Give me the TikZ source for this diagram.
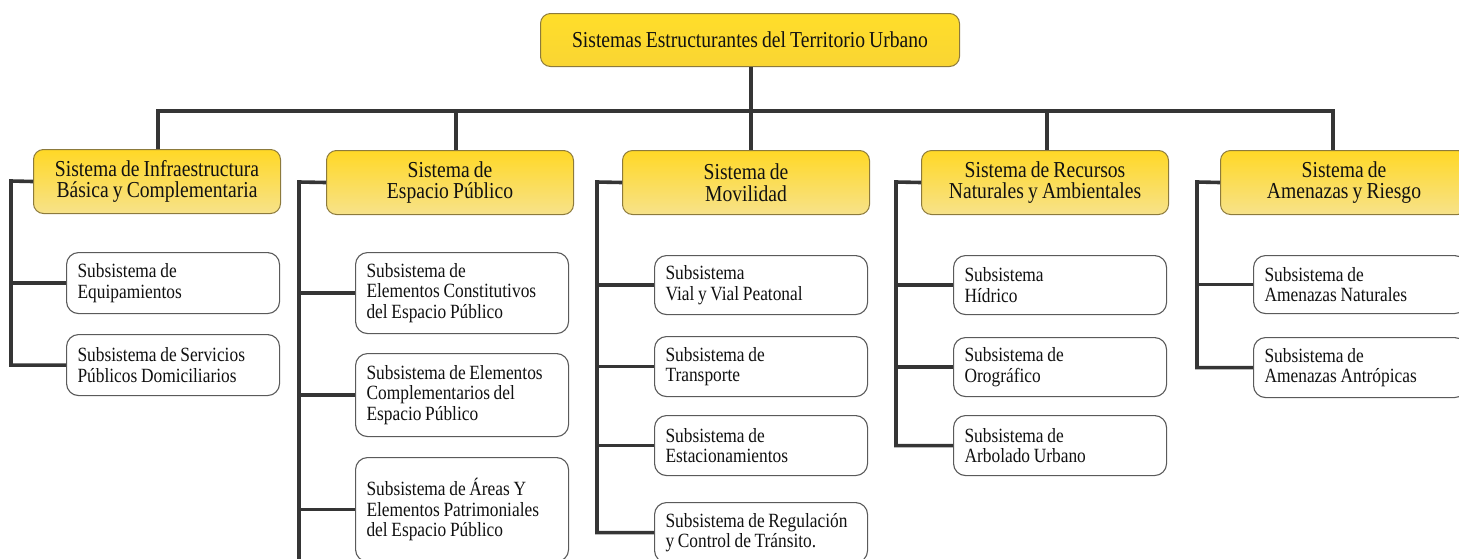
\documentclass[tikz,border=0pt]{standalone}
\usepackage{fontspec}
\setmainfont{Liberation Serif}[FakeStretch=0.86]
\definecolor{connc}{HTML}{353535}
\definecolor{ybord}{HTML}{8C7A3C}
\definecolor{sbord}{HTML}{5A5A5A}
\definecolor{txt}{HTML}{111111}
\definecolor{ytop}{HTML}{FFD826}
\definecolor{ybot}{HTML}{F7E28A}
\definecolor{ttop}{HTML}{FFDE2A}
\definecolor{tbot}{HTML}{F9D533}
\newcommand\tightspace{\spaceskip=0.18em\relax\xspaceskip=0.2em\relax}
\begin{document}
\begin{tikzpicture}[x=1pt,y=-1pt,
  conn/.style={draw=connc, line width=3.6pt},
  topbox/.style={draw=ybord, line width=1pt, rounded corners=10pt, top color=ttop, bottom color=tbot,
    minimum width=419pt, minimum height=53pt, inner sep=0pt, anchor=north west, text=txt,
    font=\fontsize{22.8}{23}\selectfont\tightspace},
  sysbox/.style={draw=ybord, line width=1pt, rounded corners=10pt, top color=ytop, bottom color=ybot,
    minimum width=247pt, minimum height=64pt, text width=229pt, inner xsep=9pt, inner ysep=0pt,
    align=flush center, anchor=north west, text=txt, font=\fontsize{22.8}{21.5}\selectfont\tightspace},
  subbox/.style={draw=sbord, line width=1.1pt, fill=white, rounded corners=12pt,
    minimum width=213pt, text width=191pt, inner xsep=11pt, inner ysep=0pt,
    align=flush left, anchor=north west, text=txt, font=\fontsize{20.2}{20.5}\selectfont\tightspace}]
\useasboundingbox (0,0) rectangle (1459,558);

% top
\node[topbox] (top) at (540,13) {Sistemas Estructurantes del Territorio Urbano};

% systems
\node[sysbox] (s1) at (33,149) {Sistema de Infraestructura\\Básica y Complementaria};
\node[sysbox] (s2) at (326,150) {Sistema de\\Espacio Público};
\node[sysbox] (s3) at (622,150) {Sistema de\\Movilidad};
\node[sysbox] (s4) at (921,150) {Sistema de Recursos\\Naturales y Ambientales};
\node[sysbox] (s5) at (1220,150) {Sistema de\\Amenazas y Riesgo};

% subsystems 1
\node[subbox, minimum height=61pt] (c11) at (66,252) {Subsistema de\\Equipamientos};
\node[subbox, minimum height=61pt] (c12) at (66,334) {Subsistema de Servicios\\Públicos Domiciliarios};
% subsystems 2
\node[subbox, minimum height=81pt] (c21) at (355,252) {Subsistema de\\Elementos Constitutivos\\del Espacio Público};
\node[subbox, minimum height=83pt] (c22) at (355,353) {Subsistema de Elementos\\Complementarios del\\Espacio Público};
\node[subbox, minimum height=104pt] (c23) at (355,457) {Subsistema de Áreas Y\\Elementos Patrimoniales\\del Espacio Público};
% subsystems 3
\node[subbox, minimum height=59pt] (c31) at (654,255) {Subsistema\\Vial y Vial Peatonal};
\node[subbox, minimum height=60pt] (c32) at (654,336) {Subsistema de\\Transporte};
\node[subbox, minimum height=60pt] (c33) at (654,415) {Subsistema de\\Estacionamientos};
\node[subbox, minimum height=60pt] (c34) at (654,502) {Subsistema de Regulación\\y Control de Tránsito.};
% subsystems 4
\node[subbox, minimum height=59pt] (c41) at (953,255) {Subsistema\\Hídrico};
\node[subbox, minimum height=59pt] (c42) at (953,337) {Subsistema de\\Orográfico};
\node[subbox, minimum height=60pt] (c43) at (953,415) {Subsistema de\\Arbolado Urbano};
% subsystems 5
\node[subbox, minimum height=58pt] (c51) at (1253,255) {Subsistema de\\Amenazas Naturales};
\node[subbox, minimum height=60pt] (c52) at (1253,337) {Subsistema de\\Amenazas Antrópicas};

% bus and drop points
\coordinate (d1) at (158,111);
\coordinate (d2) at (456,111);
\coordinate (d3) at (751,111);
\coordinate (d4) at (1047,111);
\coordinate (d5) at (1333,111);
\coordinate (v1) at (11,181);
\coordinate (v2) at (299,182);
\coordinate (v3) at (597,182);
\coordinate (v4) at (896,182);
\coordinate (v5) at (1197,182);
\coordinate (v2end) at (299,575);

\draw[conn] (d3 |- top.south) -- (d3 |- s3.north);
\draw[conn] (d1 |- s1.north) -- (d1) -- (d5) -- (d5 |- s5.north);
\draw[conn] (d2) -- (d2 |- s2.north);
\draw[conn] (d4) -- (d4 |- s4.north);

% branch 1
\draw[conn] (s1.west) -- (v1) |- (c12.west);
\draw[conn] (c11.west) -- (c11.west -| v1);
% branch 2
\draw[conn] (s2.west) -- (v2) -- (v2end);
\draw[conn] (c21.west) -- (c21.west -| v2);
\draw[conn] (c22.west) -- (c22.west -| v2);
\draw[conn] (c23.west) -- (c23.west -| v2);
% branch 3
\draw[conn] (s3.west) -- (v3) |- (c34.west);
\draw[conn] (c31.west) -- (c31.west -| v3);
\draw[conn] (c32.west) -- (c32.west -| v3);
\draw[conn] (c33.west) -- (c33.west -| v3);
% branch 4
\draw[conn] (s4.west) -- (v4) |- (c43.west);
\draw[conn] (c41.west) -- (c41.west -| v4);
\draw[conn] (c42.west) -- (c42.west -| v4);
% branch 5
\draw[conn] (s5.west) -- (v5) |- (c52.west);
\draw[conn] (c51.west) -- (c51.west -| v5);
\end{tikzpicture}
\end{document}
